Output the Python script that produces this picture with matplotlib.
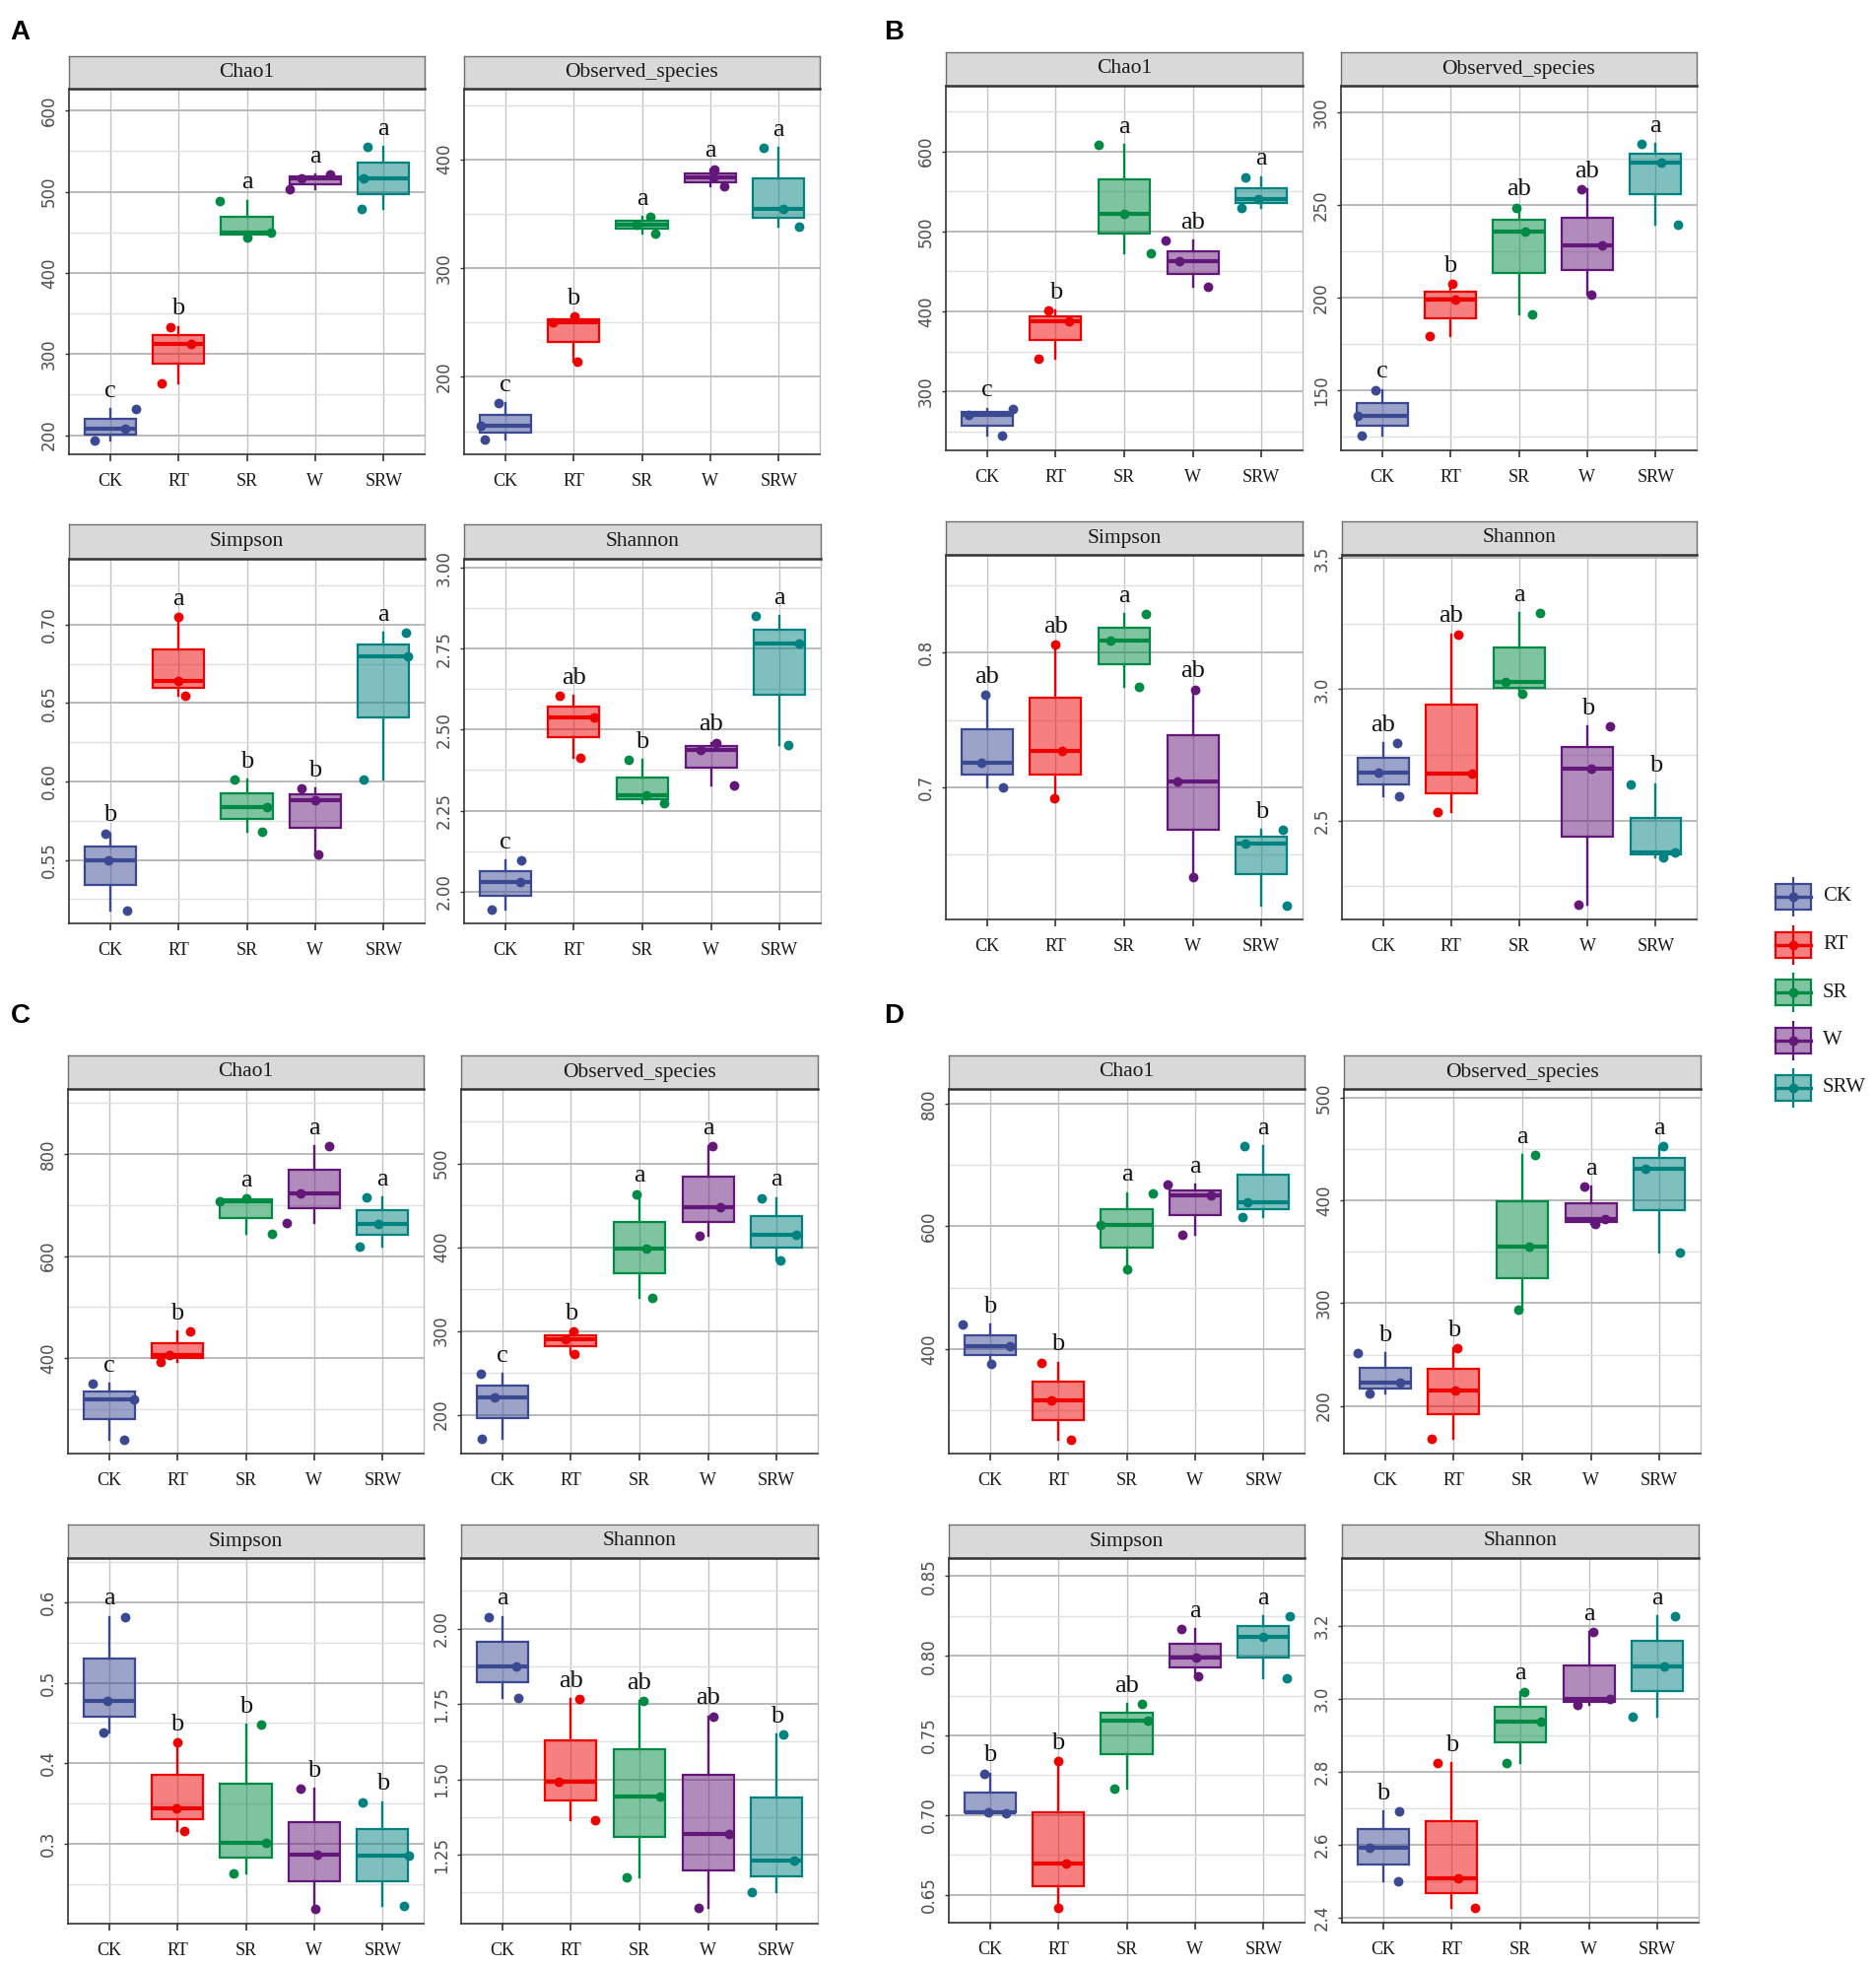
import matplotlib
matplotlib.use('Agg')
import matplotlib.pyplot as plt
import numpy as np
from matplotlib.colors import to_rgba

# ---------------- data ----------------
groups = ['CK', 'RT', 'SR', 'W', 'SRW']
colors = ['#3B4992', '#EE0000', '#008B45', '#631879', '#008280']
metrics = ['Chao1', 'Observed_species', 'Simpson', 'Shannon']

# three replicates per group (CK, RT, SR, W, SRW)
A_chao1 = [[194, 208, 232], [333.5, 313, 263.5], [489, 444, 450], [503, 516, 521], [555, 479, 516]]
A_obs = [[175.5, 142.6, 155], [250.5, 255.6, 214], [347, 332, 340], [391, 375, 383], [410.6, 338, 354]]
A_simpson = [[0.567, 0.518, 0.550], [0.705, 0.655, 0.664], [0.601, 0.568, 0.584], [0.5954, 0.5536, 0.588], [0.6948, 0.6013, 0.680]]
A_shannon = [[2.096, 1.944, 2.028], [2.605, 2.414, 2.538], [2.407, 2.272, 2.297], [2.46, 2.328, 2.4365], [2.851, 2.452, 2.7665]]

B_chao1 = [[278.7, 244.6, 270.5], [401, 341, 388], [608, 472.7, 522], [488.8, 431.3, 462.5], [568, 529, 541]]
B_obs = [[150.4, 125.6, 136.2], [207.6, 179.2, 199.2], [248.6, 191.1, 235.9], [258.4, 201.9, 228.4], [282.8, 239.4, 272.7]]
B_simpson = [[0.7685, 0.700, 0.7185], [0.8063, 0.6922, 0.7268], [0.8288, 0.7746, 0.8088], [0.7727, 0.6332, 0.7044], [0.6685, 0.6122, 0.6585]]
B_shannon = [[2.7954, 2.5926, 2.6827], [3.2096, 2.5325, 2.6777], [3.29, 2.984, 3.028], [2.858, 2.18, 2.699], [2.639, 2.3586, 2.38]]

C_chao1 = [[349.8, 240.5, 319.6], [452.7, 393.6, 406.4], [707.4, 643, 713], [814.8, 665.6, 723.5], [715, 618.6, 663.7]]
C_obs = [[249, 171.4, 220.4], [299, 272.5, 290.5], [463.5, 339.2, 398], [520.8, 413.7, 447.8], [458.8, 384.3, 414.5]]
C_simpson = [[0.582, 0.4377, 0.4774], [0.4255, 0.3163, 0.3445], [0.448, 0.2632, 0.3016], [0.3682, 0.2191, 0.2865], [0.3519, 0.2224, 0.2853]]
C_shannon = [[2.039, 1.771, 1.876], [1.7657, 1.3656, 1.494], [1.76, 1.177, 1.442], [1.709, 1.0745, 1.32], [1.649, 1.1257, 1.2326]]

D_chao1 = [[439.6, 375.9, 405.4], [378, 252.2, 317], [654.3, 529.6, 601.9], [667.7, 586.9, 650], [730.4, 615.3, 639.4]]
D_obs = [[251.5, 212.2, 222.4], [256, 168, 215.4], [444, 293.7, 355.4], [413.6, 377.5, 381.6], [453, 349.7, 430.6]]
D_simpson = [[0.7261, 0.7019, 0.7014], [0.7337, 0.6418, 0.6695], [0.7698, 0.7169, 0.759], [0.8167, 0.7868, 0.7986], [0.8249, 0.7858, 0.8121]]
D_shannon = [[2.6928, 2.5018, 2.5919], [2.8234, 2.427, 2.509], [3.02, 2.8234, 2.937], [3.1838, 2.9838, 3.0], [3.227, 2.952, 3.09]]

# horizontal jitter of each replicate point (category units)
A_chao1_jit = [[-0.22, 0.22, 0.38], [-0.11, 0.18, -0.24], [-0.40, 0.0, 0.36], [-0.38, -0.2, 0.22], [-0.24, -0.32, -0.30]]
A_obs_jit = [[-0.10, -0.30, -0.35], [-0.31, 0.02, 0.05], [0.12, 0.2, -0.08], [0.06, 0.2, 0.04], [-0.22, 0.3, 0.06]]
A_simpson_jit = [[-0.07, 0.25, -0.02], [0.0, 0.1, 0.0], [-0.18, 0.22, 0.3], [-0.2, 0.04, 0.0], [0.32, -0.3, 0.36]]
A_shannon_jit = [[0.24, -0.2, 0.22], [-0.2, 0.1, 0.3], [-0.2, 0.32, 0.06], [0.08, 0.33, -0.15], [-0.35, 0.13, 0.29]]
B_chao1_jit = [[0.38, 0.22, -0.27], [-0.1, -0.25, 0.2], [-0.37, 0.39, 0.0], [-0.39, 0.22, -0.2], [-0.23, -0.29, -0.05]]
B_obs_jit = [[-0.1, -0.3, -0.35], [0.03, -0.31, 0.07], [-0.03, 0.2, 0.1], [-0.08, 0.06, 0.22], [-0.2, 0.32, 0.08]]
B_simpson_jit = [[-0.03, 0.23, -0.09], [0.0, -0.02, 0.1], [0.32, 0.21, -0.2], [0.03, 0.01, -0.22], [0.31, 0.37, -0.23]]
B_shannon_jit = [[0.21, 0.24, -0.07], [0.11, -0.2, 0.3], [0.31, 0.05, -0.2], [0.33, -0.14, 0.06], [-0.37, 0.11, 0.28]]
C_chao1_jit = [[-0.24, 0.22, 0.36], [0.18, -0.24, -0.12], [-0.38, 0.38, 0.0], [0.22, -0.4, -0.2], [-0.24, -0.33, -0.06]]
C_obs_jit = [[-0.31, -0.3, -0.11], [0.04, 0.05, -0.08], [-0.04, 0.18, 0.1], [0.06, -0.12, 0.18], [-0.22, 0.06, 0.28]]
C_simpson_jit = [[0.24, -0.08, -0.02], [0.0, 0.1, -0.02], [0.23, -0.18, 0.3], [-0.2, 0.02, 0.04], [-0.3, 0.31, 0.38]]
C_shannon_jit = [[-0.2, 0.24, 0.2], [0.12, 0.35, -0.18], [0.06, -0.18, 0.3], [0.08, -0.14, 0.3], [0.1, -0.36, 0.26]]
D_chao1_jit = [[-0.4, 0.02, 0.3], [-0.24, 0.19, -0.1], [0.38, 0.0, -0.38], [-0.4, -0.19, 0.23], [-0.28, -0.31, -0.23]]
D_obs_jit = [[-0.4, -0.22, 0.22], [0.05, -0.32, 0.02], [0.18, -0.06, 0.1], [-0.1, 0.06, 0.2], [0.06, 0.3, -0.2]]
D_simpson_jit = [[-0.08, -0.02, 0.24], [0.0, 0.0, 0.11], [0.23, -0.18, 0.31], [-0.2, 0.04, 0.01], [0.38, 0.34, 0.0]]
D_shannon_jit = [[0.24, 0.22, -0.2], [-0.2, 0.34, 0.1], [0.06, -0.2, 0.3], [0.06, -0.16, 0.3], [0.26, -0.36, 0.1]]

# significance letters
A_letters = [['c', 'b', 'a', 'a', 'a'], ['c', 'b', 'a', 'a', 'a'], ['b', 'a', 'b', 'b', 'a'], ['c', 'ab', 'b', 'ab', 'a']]
B_letters = [['c', 'b', 'a', 'ab', 'a'], ['c', 'b', 'ab', 'ab', 'a'], ['ab', 'ab', 'a', 'ab', 'b'], ['ab', 'ab', 'a', 'b', 'b']]
C_letters = [['c', 'b', 'a', 'a', 'a'], ['c', 'b', 'a', 'a', 'a'], ['a', 'b', 'b', 'b', 'b'], ['a', 'ab', 'ab', 'ab', 'b']]
D_letters = [['b', 'b', 'a', 'a', 'a'], ['b', 'b', 'a', 'a', 'a'], ['b', 'b', 'ab', 'a', 'a'], ['b', 'b', 'a', 'a', 'a']]

# y scales
A_ylims = [(176.5, 627), (128.7, 465), (0.5096, 0.742), (1.9015, 3.028)]
B_ylims = [(226.5, 682), (117.8, 314.3), (0.602, 0.8727), (2.1233, 3.5125)]
C_ylims = [(213.5, 927), (153.7, 589), (0.2007, 0.655), (1.022, 2.234)]
D_ylims = [(229.7, 824), (153.6, 508.6), (0.6325, 0.8613), (2.387, 3.3865)]

A_ticks = [['200', '300', '400', '500', '600'], ['200', '300', '400'], ['0.55', '0.60', '0.65', '0.70'], ['2.00', '2.25', '2.50', '2.75', '3.00']]
B_ticks = [['300', '400', '500', '600'], ['150', '200', '250', '300'], ['0.7', '0.8'], ['2.5', '3.0', '3.5']]
C_ticks = [['400', '600', '800'], ['200', '300', '400', '500'], ['0.3', '0.4', '0.5', '0.6'], ['1.25', '1.50', '1.75', '2.00']]
D_ticks = [['400', '600', '800'], ['200', '300', '400', '500'], ['0.65', '0.70', '0.75', '0.80', '0.85'], ['2.4', '2.6', '2.8', '3.0', '3.2']]

panel_values = {'A': [A_chao1, A_obs, A_simpson, A_shannon],
                'B': [B_chao1, B_obs, B_simpson, B_shannon],
                'C': [C_chao1, C_obs, C_simpson, C_shannon],
                'D': [D_chao1, D_obs, D_simpson, D_shannon]}
panel_jitter = {'A': [A_chao1_jit, A_obs_jit, A_simpson_jit, A_shannon_jit],
                'B': [B_chao1_jit, B_obs_jit, B_simpson_jit, B_shannon_jit],
                'C': [C_chao1_jit, C_obs_jit, C_simpson_jit, C_shannon_jit],
                'D': [D_chao1_jit, D_obs_jit, D_simpson_jit, D_shannon_jit]}
panel_letters = {'A': A_letters, 'B': B_letters, 'C': C_letters, 'D': D_letters}
panel_ylims = {'A': A_ylims, 'B': B_ylims, 'C': C_ylims, 'D': D_ylims}
panel_ticks = {'A': A_ticks, 'B': B_ticks, 'C': C_ticks, 'D': D_ticks}

# ---------------- layout (pixels) ----------------
W, H = 1904, 1996
# (left, right, strip_top, strip_bottom, plot_bottom) per panel in metric order
layout = {
    'A': [(70, 431, 57, 90, 461), (471, 832, 57, 90, 461), (70, 431, 532, 567, 937), (471, 833, 532, 567, 937)],
    'B': [(960, 1322, 53, 87, 457), (1361, 1722, 53, 87, 457), (960, 1322, 529, 563, 933), (1362, 1722, 529, 563, 933)],
    'C': [(69, 430, 1071, 1105, 1475), (468, 830, 1071, 1105, 1475), (69, 430, 1547, 1581, 1952), (468, 830, 1547, 1581, 1952)],
    'D': [(963, 1324, 1071, 1105, 1475), (1364, 1726, 1071, 1105, 1475), (963, 1324, 1547, 1581, 1951), (1362, 1724, 1547, 1581, 1951)],
}
label_pos = {'A': (10, 20), 'B': (897, 20), 'C': (11, 1018), 'D': (897, 1018)}

SERIF = 'Liberation Serif'

fig = plt.figure(figsize=(W / 100, H / 100), dpi=100)
fig.patch.set_facecolor('white')


def draw_panel(rect, title, vals, jit, letters, ylim, ticklabels):
    L, R, st, sb, pb = rect
    ax = fig.add_axes([L / W, 1 - pb / H, (R - L) / W, (pb - sb) / H])
    sax = fig.add_axes([L / W, 1 - sb / H, (R - L) / W, (sb - st) / H])

    # strip
    sax.set_facecolor('#D9D9D9')
    sax.set_xticks([]); sax.set_yticks([])
    for s in sax.spines.values():
        s.set_color('#6E6E6E'); s.set_linewidth(1.0)
    sax.spines['bottom'].set_color('#333333'); sax.spines['bottom'].set_linewidth(1.8)
    sax.text(0.5, 0.5, title, ha='center', va='center', fontsize=15.5,
             family=SERIF, color='#1A1A1A', transform=sax.transAxes)

    ax.set_xlim(-0.6, 4.6)
    ax.set_ylim(*ylim)
    ticks = [float(t) for t in ticklabels]
    step = ticks[1] - ticks[0]
    ax.set_yticks(ticks)
    ax.set_yticklabels(ticklabels, rotation=90, va='center', family='DejaVu Sans',
                       fontsize=12, color='#4D4D4D')
    minors = []
    m = ticks[0] - step / 2
    while m > ylim[0]:
        m -= step
    while m < ylim[1]:
        if m > ylim[0] and all(abs(m - t) > step * 0.1 for t in ticks):
            minors.append(m)
        m += step / 2
    ax.set_yticks(minors, minor=True)
    ax.set_xticks(range(len(groups)))
    ax.set_xticklabels(groups, family=SERIF, fontsize=13, color='#1A1A1A')
    ax.tick_params(axis='x', length=5, width=1.2, color='#333333', pad=9)
    ax.tick_params(axis='y', which='major', length=3, width=1.0, color='#333333', pad=5)
    ax.tick_params(axis='y', which='minor', length=0)
    ax.set_axisbelow(True)
    ax.grid(axis='y', which='major', color='#BABABA', linewidth=1.4)
    ax.grid(axis='y', which='minor', color='#E0E0E0', linewidth=1.0)
    ax.grid(axis='x', which='major', color='#C4C4C4', linewidth=1.0)
    for side in ['top', 'right']:
        ax.spines[side].set_color('#BDBDBD'); ax.spines[side].set_linewidth(1.0)
    for side in ['left', 'bottom']:
        ax.spines[side].set_color('#333333'); ax.spines[side].set_linewidth(1.2)

    bp = ax.boxplot(vals, positions=range(len(groups)), widths=0.75, patch_artist=True,
                    showfliers=False, showcaps=False, whis=1.5, manage_ticks=False)
    for i, c in enumerate(colors):
        bp['boxes'][i].set_facecolor(to_rgba(c, 0.5))
        bp['boxes'][i].set_edgecolor(c)
        bp['boxes'][i].set_linewidth(1.6)
        bp['boxes'][i].set_zorder(2)
        bp['medians'][i].set_color(c)
        bp['medians'][i].set_linewidth(3.0)
        bp['medians'][i].set_zorder(2.5)
        for wline in bp['whiskers'][2 * i:2 * i + 2]:
            wline.set_color(c); wline.set_linewidth(1.7); wline.set_zorder(1.9)
    span = ylim[1] - ylim[0]
    for i, c in enumerate(colors):
        xs = [i + j for j in jit[i]]
        ax.scatter(xs, vals[i], s=50, color=c, zorder=3, linewidths=0)
        ax.text(i, max(vals[i]) + 0.033 * span, letters[i], ha='center', va='baseline',
                family=SERIF, fontsize=19, color='#111111', zorder=4)


for key in ['A', 'B', 'C', 'D']:
    for k, met in enumerate(metrics):
        draw_panel(layout[key][k], met, panel_values[key][k], panel_jitter[key][k],
                   panel_letters[key][k], panel_ylims[key][k], panel_ticks[key][k])
    lx, ly = label_pos[key]
    fig.text(lx / W, 1 - ly / H, key, ha='left', va='top', fontsize=20,
             fontweight='bold', family='Liberation Sans', color='black')

# ---------------- legend ----------------
lg = fig.add_axes([1790 / W, 1 - 1135 / H, 114 / W, 250 / H])
lg.set_xlim(0, 114)
lg.set_ylim(250, 0)
lg.axis('off')
for i, (g, c) in enumerate(zip(groups, colors)):
    cy = 25 + 48.5 * i
    cx = 30
    lg.plot([cx, cx], [cy - 20, cy + 20], color=c, lw=1.6, solid_capstyle='butt')
    lg.add_patch(plt.Rectangle((cx - 18, cy - 13), 36, 26, facecolor=to_rgba(c, 0.5),
                               edgecolor=c, lw=1.6))
    lg.plot([cx - 18, cx + 18], [cy, cy], color=c, lw=2.4)
    lg.scatter([cx], [cy], s=50, color=c, zorder=3, linewidths=0)
    lg.text(cx + 30, cy, g, ha='left', va='center', family=SERIF, fontsize=15, color='#1A1A1A')

fig.savefig('out.png', dpi=100, facecolor='white')
